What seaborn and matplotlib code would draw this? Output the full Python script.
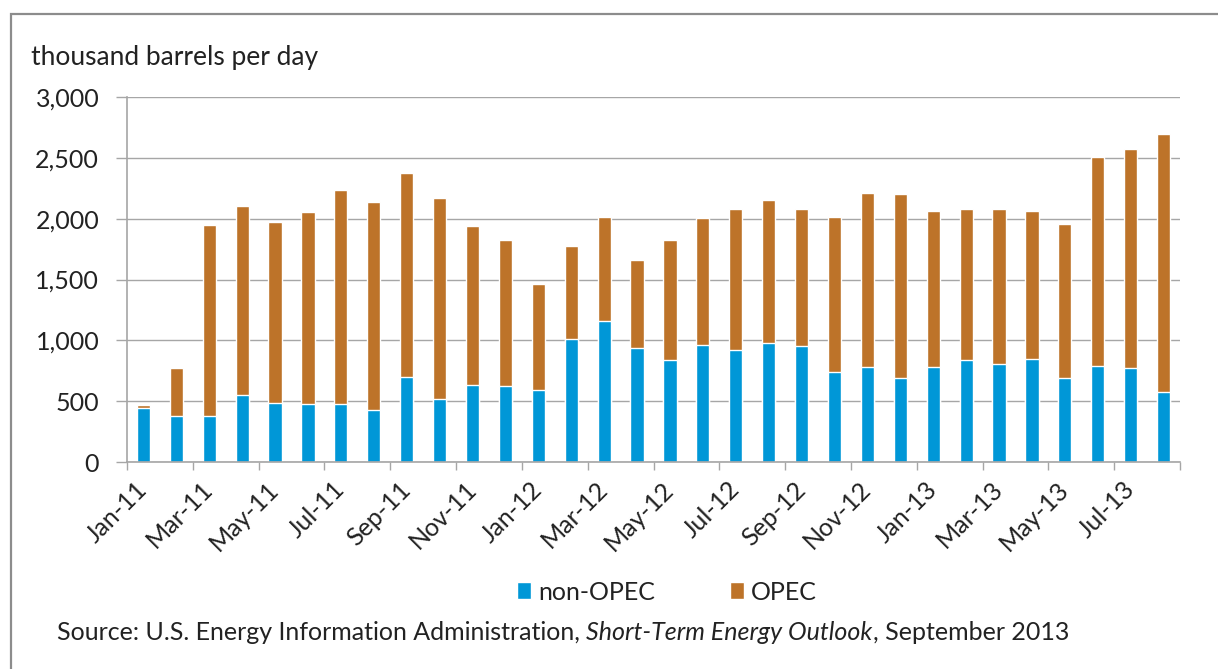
import pandas as pd
import matplotlib
matplotlib.use('Agg')
import matplotlib.pyplot as plt
import seaborn as sns
from matplotlib.patches import Rectangle, Patch

# monthly crude oil supply disruptions, thousand barrels per day
months = ['Jan-11', 'Feb-11', 'Mar-11', 'Apr-11', 'May-11', 'Jun-11', 'Jul-11', 'Aug-11',
          'Sep-11', 'Oct-11', 'Nov-11', 'Dec-11', 'Jan-12', 'Feb-12', 'Mar-12', 'Apr-12',
          'May-12', 'Jun-12', 'Jul-12', 'Aug-12', 'Sep-12', 'Oct-12', 'Nov-12', 'Dec-12',
          'Jan-13', 'Feb-13', 'Mar-13', 'Apr-13', 'May-13', 'Jun-13', 'Jul-13', 'Aug-13']
non_opec = [445, 381, 381, 548, 488, 477, 477, 430, 696, 515, 633, 625, 592, 1014, 1162, 940,
            836, 959, 918, 981, 951, 740, 781, 688, 781, 836, 803, 844, 688, 792, 770, 578]
opec = [20, 389, 1570, 1559, 1482, 1578, 1759, 1710, 1677, 1655, 1307, 1197, 874, 759, 852, 723,
        986, 1044, 1159, 1170, 1126, 1274, 1433, 1515, 1285, 1241, 1274, 1222, 1271, 1718, 1803, 2121]
y_ticks = [0, 500, 1000, 1500, 2000, 2500, 3000]

df = pd.DataFrame({'month': months, 'non_opec': non_opec, 'opec': opec})
df['total'] = df['non_opec'] + df['opec']

blue = '#0097D7'
orange = '#BD7329'
grid_col = '#A6A6A6'
text_col = '#222222'
fs = 18

sns.set_style('white')
plt.rcParams['font.family'] = ['Lato', 'DejaVu Sans']

W, H = 1218, 669
fig = plt.figure(figsize=(W / 100, H / 100), dpi=100)
ax = fig.add_axes([127 / W, 1 - 462 / H, (1180 - 127) / W, (462 - 97) / H])

# stacked bars: total (orange) with non-OPEC (blue) drawn over it
sns.barplot(data=df, x='month', y='total', color=orange, saturation=1, width=0.4, ax=ax)
sns.barplot(data=df, x='month', y='non_opec', color=blue, saturation=1, width=0.4, ax=ax)

ax.set_xlim(-0.5, len(months) - 0.5)
ax.set_ylim(0, 3000)
ax.set_yticks(y_ticks)
ax.set_yticklabels([f'{v:,}' for v in y_ticks], fontsize=fs, color=text_col)
ax.yaxis.grid(True, color=grid_col, linewidth=1)
ax.set_axisbelow(True)
ax.tick_params(axis='y', length=8, width=1, color=grid_col, pad=12, left=True)

# x ticks: marks at every second category boundary, labels every other month
ax.set_xticks([i - 0.5 for i in range(0, len(months) + 1, 2)])
ax.set_xticklabels([])
ax.tick_params(axis='x', which='major', length=6, width=1, color=grid_col, bottom=True)
ax.set_xticks(list(range(0, len(months), 2)), minor=True)
ax.set_xticklabels(months[::2], minor=True, rotation=45, ha='right', va='center',
                   rotation_mode='anchor', fontsize=fs, color=text_col)
ax.tick_params(axis='x', which='minor', length=0, pad=17)

for s in ['top', 'right']:
    ax.spines[s].set_visible(False)
for s in ['left', 'bottom']:
    ax.spines[s].set_color(grid_col)
    ax.spines[s].set_linewidth(1.2)
ax.set_xlabel('')
ax.set_ylabel('')

fig.text(31 / W, 1 - 57 / H, 'thousand barrels per day', fontsize=19, color=text_col, va='center')

handles = [Patch(facecolor=blue), Patch(facecolor=orange)]
fig.legend(handles, ['non-OPEC', 'OPEC'], loc='center', bbox_to_anchor=(667 / W, 1 - 592 / H),
           ncol=2, frameon=False, fontsize=fs, handlelength=0.55, handleheight=0.65,
           handletextpad=0.3, columnspacing=3.0, labelcolor=text_col)

# source line with italic publication title
fig.canvas.draw()
r = fig.canvas.get_renderer()
x0 = 57 / W
yy = 1 - 633 / H
parts = [('Source: U.S. Energy Information Administration, ', 'normal'),
         ('Short-Term Energy Outlook', 'italic'),
         (', September 2013', 'normal')]
for txt, st in parts:
    t = fig.text(x0, yy, txt, fontsize=fs, style=st, color=text_col, va='center')
    bb = t.get_window_extent(r)
    x0 += bb.width / W

# outer frame (only top and left edges fall inside the picture)
fig.patches.append(Rectangle((11 / W, -0.1), 1.2, 1 - 14 / H + 0.1, transform=fig.transFigure,
                             fill=False, edgecolor='#8C8C8C', linewidth=1.6))

fig.savefig('out.png', dpi=100)
